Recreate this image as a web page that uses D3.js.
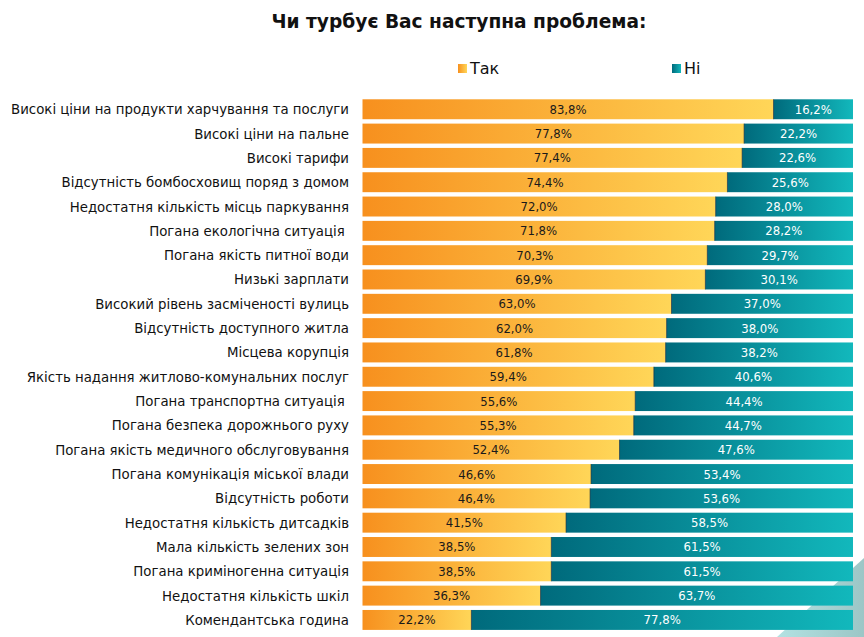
<!DOCTYPE html>
<html><head><meta charset="utf-8">
<script src="https://cdn.jsdelivr.net/npm/d3@7"></script>
<style>html,body{margin:0;padding:0;background:#fff;}svg{display:block;}</style>
</head><body>
<script>
const categories = [
 "Високі ціни на продукти харчування та послуги",
 "Високі ціни на пальне",
 "Високі тарифи",
 "Відсутність бомбосховищ поряд з домом",
 "Недостатня кількість місць паркування",
 "Погана екологічна ситуація ",
 "Погана якість питної води",
 "Низькі зарплати",
 "Високий рівень засміченості вулиць",
 "Відсутність доступного житла",
 "Місцева корупція",
 "Якість надання житлово-комунальних послуг",
 "Погана транспортна ситуація ",
 "Погана безпека дорожнього руху",
 "Погана якість медичного обслуговування",
 "Погана комунікація міської влади",
 "Відсутність роботи",
 "Недостатня кількість дитсадків",
 "Мала кількість зелених зон",
 "Погана криміногенна ситуація",
 "Недостатня кількість шкіл",
 "Комендантська година"
];
const yesValues = [83.8,77.8,77.4,74.4,72.0,71.8,70.3,69.9,63.0,62.0,61.8,59.4,55.6,55.3,52.4,46.6,46.4,41.5,38.5,38.5,36.3,22.2];
const noValues  = [16.2,22.2,22.6,25.6,28.0,28.2,29.7,30.1,37.0,38.0,38.2,40.6,44.4,44.7,47.6,53.4,53.6,58.5,61.5,61.5,63.7,77.8];
const seriesNames = ["Так","Ні"];
const title = "Чи турбує Вас наступна проблема:";

const W = 864, H = 637;
const svg = d3.select("body").append("svg").attr("width", W).attr("height", H);
const defs = svg.append("defs");
function grad(id, c1, c2){
  const g = defs.append("linearGradient").attr("id", id).attr("x1","0").attr("x2","1").attr("y1","0").attr("y2","0");
  g.append("stop").attr("offset","0").attr("stop-color",c1);
  g.append("stop").attr("offset","1").attr("stop-color",c2);
}
grad("gYes", "#F7901E", "#FFD658");
grad("gNo", "#006A7C", "#12B8BC");
const tri = defs.append("linearGradient").attr("id","gTri").attr("x1","0").attr("x2","1").attr("y1","0").attr("y2","0");
tri.append("stop").attr("offset","0").attr("stop-color","#B2E2E2");
tri.append("stop").attr("offset","1").attr("stop-color","#9CC6C6");

// decorative corner
svg.append("path").attr("d", `M777,${H} L${W},558 L${W},${H} Z`).attr("fill","url(#gTri)");

const x = d3.scaleLinear().domain([0,100]).range([362.5, 853]);
const y = d3.scaleBand().domain(categories).range([97.1, 632.1]).paddingInner(0.18).paddingOuter(0.09);

svg.append("text").attr("x", 459).attr("y", 28).attr("text-anchor","middle")
  .attr("font-family","DejaVu Sans").attr("font-weight","bold").attr("font-size",18.6).attr("fill","#111")
  .text(title);

// legend
const legendX = [458, 672];
const legendFill = ["url(#gYes)","url(#gNo)"];
seriesNames.forEach((s,i)=>{
  svg.append("rect").attr("x",legendX[i]).attr("y",64).attr("width",9).attr("height",9).attr("fill",legendFill[i]);
  svg.append("text").attr("x",legendX[i]+12).attr("y",74).attr("font-family","DejaVu Sans").attr("font-size",16).attr("fill","#111").text(s);
});

const rows = svg.append("g").selectAll("g").data(categories).join("g");
rows.append("rect").attr("x", x(0)).attr("y", d=>y(d)).attr("height", y.bandwidth())
  .attr("width", (d,i)=>x(yesValues[i])-x(0)).attr("fill","url(#gYes)");
rows.append("rect").attr("x", (d,i)=>x(yesValues[i])).attr("y", d=>y(d)).attr("height", y.bandwidth())
  .attr("width", (d,i)=>x(yesValues[i]+noValues[i])-x(yesValues[i])).attr("fill","url(#gNo)");
rows.append("line").attr("x1",(d,i)=>x(yesValues[i])).attr("x2",(d,i)=>x(yesValues[i]))
  .attr("y1",d=>y(d)).attr("y2",d=>y(d)+y.bandwidth()).attr("stroke","#123").attr("stroke-width",1).attr("opacity",0.6);

const fmt = v => v.toFixed(1).replace(".", ",") + "%";
rows.append("text").attr("x",(d,i)=>x(yesValues[i]/2)).attr("y",d=>y(d)+y.bandwidth()/2+4.5)
  .attr("text-anchor","middle").attr("font-family","DejaVu Sans Condensed, DejaVu Sans").attr("font-size",13).attr("fill","#1a1a1a")
  .text((d,i)=>fmt(yesValues[i]));
rows.append("text").attr("x",(d,i)=>x(yesValues[i]+noValues[i]/2)).attr("y",d=>y(d)+y.bandwidth()/2+4.5)
  .attr("text-anchor","middle").attr("font-family","DejaVu Sans Condensed, DejaVu Sans").attr("font-size",13).attr("fill","#fff")
  .text((d,i)=>fmt(noValues[i]));

rows.append("text").attr("x",349).attr("y",d=>y(d)+y.bandwidth()/2+5)
  .attr("text-anchor","end").attr("font-family","DejaVu Sans Condensed, DejaVu Sans").attr("font-size",14.8).attr("fill","#111")
  .attr("xml:space","preserve")
  .text(d=>d);
</script>
</body></html>
